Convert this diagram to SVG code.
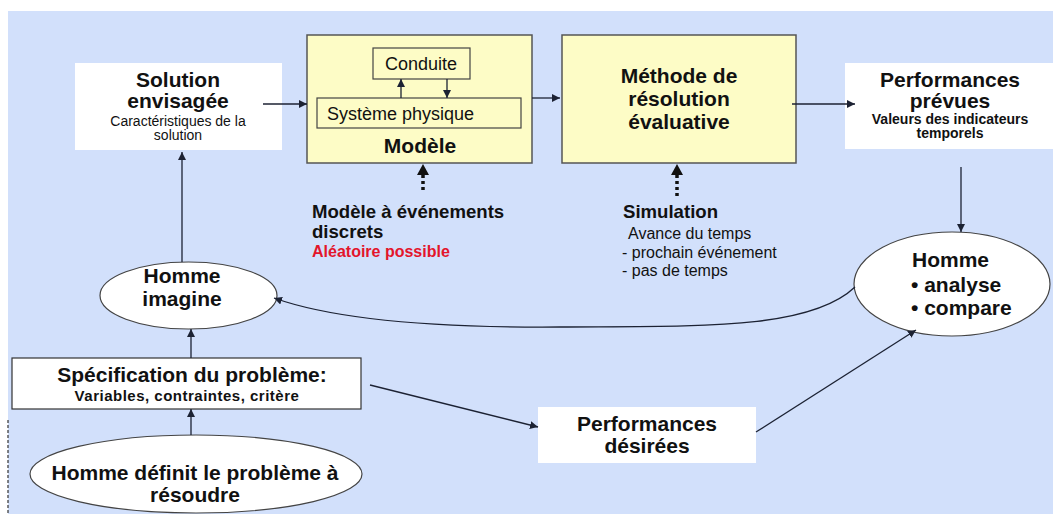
<svg xmlns="http://www.w3.org/2000/svg" width="1053" height="514" viewBox="0 0 1053 514">
<style>
text{font-family:"Liberation Sans",Arial,sans-serif;fill:#111}
.b{font-weight:bold}
.big{font-size:21px;font-weight:bold}
.mid{font-size:18.6px;font-weight:bold}
.sm{font-size:14px}
.c{text-anchor:middle}
.ln{stroke:#1c2233;stroke-width:1.3;fill:none}
.dot{stroke:#111;stroke-width:3.5;stroke-dasharray:3 3;fill:none}
.box{fill:#fdfcc6;stroke:#555;stroke-width:1.5}
.wb{fill:#fff;stroke:none}
.el{fill:#fff;stroke:#444;stroke-width:1.2}
</style>
<defs>
<marker id="ah" viewBox="0 0 10 10" refX="10" refY="5" markerWidth="8" markerHeight="8" markerUnits="userSpaceOnUse" orient="auto">
<path d="M0,0 L10,5 L0,10 z" fill="#1c2233"/>
</marker>
</defs>
<rect x="0" y="0" width="1053" height="514" fill="#fff"/>
<rect x="8" y="11" width="1045" height="503" fill="#d2e0fb"/>
<line x1="8" y1="420" x2="8" y2="514" stroke="#333" stroke-width="1.2" stroke-dasharray="3 2"/>

<g id="solution">
<rect class="wb" x="75" y="63" width="207" height="87"/>
<text class="big c" x="178" y="87">Solution</text>
<text class="big c" x="178" y="108">envisagée</text>
<text class="sm c" x="178" y="126">Caractéristiques de la</text>
<text class="sm c" x="178" y="140">solution</text>
</g>

<g id="modele">
<rect class="box" x="307" y="35" width="225" height="128"/>
<rect x="373" y="48" width="97" height="31" fill="none" stroke="#444" stroke-width="1.2"/>
<text x="421" y="70" class="c" font-size="18">Conduite</text>
<rect x="317" y="98" width="204" height="30" fill="none" stroke="#444" stroke-width="1.2"/>
<text x="327" y="120" font-size="18">Système physique</text>
<text class="big c" x="420" y="153">Modèle</text>
</g>

<g id="methode">
<rect class="box" x="562" y="35" width="234" height="128"/>
<text class="big c" x="679" y="83">Méthode de</text>
<text class="big c" x="679" y="106">résolution</text>
<text class="big c" x="679" y="129">évaluative</text>
</g>

<g id="perf-prevues">
<rect class="wb" x="845" y="63" width="208" height="86"/>
<text class="big c" x="950" y="87" font-size="22">Performances</text>
<text class="big c" x="950" y="108" font-size="22">prévues</text>
<text class="sm b c" x="950" y="124">Valeurs des indicateurs</text>
<text class="sm b c" x="950" y="138">temporels</text>
</g>

<g id="modele-label">
<text class="mid" x="312" y="218">Modèle à événements</text>
<text class="mid" x="312" y="238">discrets</text>
<text class="b" x="312" y="257" font-size="16" style="fill:#e3152b">Aléatoire possible</text>
</g>

<g id="simulation-label">
<text class="mid" x="623" y="218">Simulation</text>
<text x="628" y="239" font-size="16">Avance du temps</text>
<text x="622" y="258" font-size="16">- prochain événement</text>
<text x="622" y="276" font-size="16">- pas de temps</text>
</g>

<g id="homme-analyse">
<ellipse class="el" cx="952" cy="284" rx="98" ry="52"/>
<text class="big" x="912" y="267">Homme</text>
<text class="big" x="911" y="292">• analyse</text>
<text class="big" x="911" y="315">• compare</text>
</g>

<g id="homme-imagine">
<ellipse class="el" cx="188.5" cy="295.5" rx="88.5" ry="33.5"/>
<text class="big c" x="182" y="283">Homme</text>
<text class="big c" x="182" y="306">imagine</text>
</g>

<g id="specification">
<rect x="12" y="358" width="349" height="51" fill="#fff" stroke="#333" stroke-width="1.2"/>
<text class="big c" x="192" y="382">Spécification du problème:</text>
<text class="b c" x="187" y="401" font-size="15" letter-spacing="0.5">Variables, contraintes, critère</text>
</g>

<g id="perf-desirees">
<rect class="wb" x="538" y="407" width="218" height="56"/>
<text class="big c" x="647" y="431">Performances</text>
<text class="big c" x="647" y="453">désirées</text>
</g>

<g id="homme-definit">
<ellipse class="el" cx="196" cy="474" rx="166" ry="39"/>
<text class="big c" x="195" y="480">Homme définit le problème à</text>
<text class="big c" x="195" y="502">résoudre</text>
</g>

<g id="connectors">
<line class="ln" x1="263" y1="104" x2="307" y2="104" marker-end="url(#ah)"/>
<line class="ln" x1="401" y1="98" x2="401" y2="79" marker-end="url(#ah)"/>
<line class="ln" x1="447" y1="79" x2="447" y2="98" marker-end="url(#ah)"/>
<line class="ln" x1="532" y1="98" x2="560" y2="98" marker-end="url(#ah)"/>
<line class="ln" x1="792" y1="104" x2="855" y2="104" marker-end="url(#ah)"/>
<line class="ln" x1="961" y1="167" x2="961" y2="232" marker-end="url(#ah)"/>
<line class="ln" x1="182" y1="262" x2="182" y2="152" marker-end="url(#ah)"/>
<line class="ln" x1="191" y1="358" x2="191" y2="329" marker-end="url(#ah)"/>
<line class="ln" x1="191" y1="435" x2="191" y2="409" marker-end="url(#ah)"/>
<line class="ln" x1="370" y1="385" x2="538" y2="427" marker-end="url(#ah)"/>
<line class="ln" x1="756" y1="432" x2="916" y2="330" marker-end="url(#ah)"/>
<path class="ln" d="M855,287 C810,330 700,326 560,327 C420,328 330,318 274,298" marker-end="url(#ah)"/>
<line class="dot" x1="423" y1="190" x2="423" y2="174"/>
<path d="M417,175 L423,164 L429,175 z" fill="#111"/>
<line class="dot" x1="677" y1="196" x2="677" y2="174"/>
<path d="M671,175 L677,164 L683,175 z" fill="#111"/>
</g>
</svg>
